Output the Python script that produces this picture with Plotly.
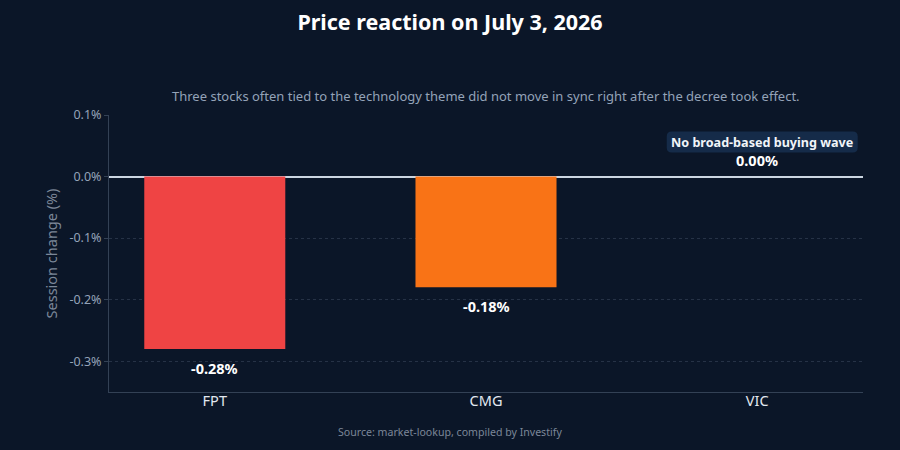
import plotly.graph_objects as go

tickers = ["FPT", "CMG", "VIC"]
changes = [-0.28, -0.18, 0.00]
bar_colors = ["#ef4444", "#f97316", "#64748b"]
labels = ["-0.28%", "-0.18%", "0.00%"]
y_ticks = [0.1, 0.0, -0.1, -0.2, -0.3]
y_tick_text = ["0.1%", "0.0%", "-0.1%", "-0.2%", "-0.3%"]
callout_text = "No broad-based buying wave"
callout_y = 0.056

BG = "#0b1628"
FONT = "Noto Sans"

fig = go.Figure()
fig.add_trace(go.Bar(
    x=tickers, y=changes,
    marker=dict(color=bar_colors, line=dict(width=0)),
    width=0.52,
    hoverinfo="skip",
))

annotations = [
    dict(text="Three stocks often tied to the technology theme did not move in sync right after the decree took effect.",
         xref="paper", yref="paper", x=0.5, y=1.07, xanchor="center", yanchor="middle",
         showarrow=False, font=dict(family=FONT, size=13, color="#94a3b8")),
    dict(text="Source: market-lookup, compiled by Investify",
         xref="paper", yref="paper", x=0.5 - 36 / 754, y=-0.143, xanchor="center", yanchor="middle",
         showarrow=False, font=dict(family=FONT, size=10.6, color="#7c8798")),
    dict(text="<b>" + callout_text + "</b>", x=2, y=callout_y, xshift=5,
         xref="x", yref="y", showarrow=False, xanchor="center", yanchor="middle",
         font=dict(family=FONT, size=12.6, color="#f1f5f9")),
]
for i, (t, v, lab) in enumerate(zip(tickers, changes, labels)):
    annotations.append(dict(
        text="<b>" + lab + "</b>", x=i, y=v, xref="x", yref="y",
        yshift=(-19 if v < 0 else 17), showarrow=False,
        xanchor="center", yanchor="middle",
        font=dict(family=FONT, size=14.5, color="#ffffff")))

w, h, r, dx = 191, 21, 5, 5
x0, x1, y0, y1 = -w / 2 + dx, w / 2 + dx, -h / 2, h / 2
path = (f"M {x0+r},{y0} L {x1-r},{y0} Q {x1},{y0} {x1},{y0+r} "
        f"L {x1},{y1-r} Q {x1},{y1} {x1-r},{y1} L {x0+r},{y1} "
        f"Q {x0},{y1} {x0},{y1-r} L {x0},{y0+r} Q {x0},{y0} {x0+r},{y0} Z")

fig.update_layout(
    width=900, height=450,
    paper_bgcolor=BG, plot_bgcolor=BG,
    margin=dict(l=109, r=37, t=115, b=58),
    showlegend=False,
    font=dict(family=FONT, color="#94a3b8"),
    title=dict(text="<b>Price reaction on July 3, 2026</b>", x=0.5, xanchor="center",
               y=0.949, yanchor="middle",
               font=dict(family=FONT, size=21.5, color="#ffffff")),
    xaxis=dict(type="category", range=[-0.39, 2.39], showgrid=False,
               showline=True, linecolor="#334155", linewidth=1,
               tickfont=dict(family=FONT, size=14.5, color="#e2e8f0"), ticks="",
               ticklabelstandoff=-4),
    yaxis=dict(range=[-0.35, 0.1], tickvals=y_ticks, ticktext=y_tick_text,
               showgrid=True, gridcolor="#263246", griddash="dot", gridwidth=1,
               showline=True, linecolor="#334155", linewidth=1,
               ticks="outside", ticklen=4, tickcolor="#334155",
               zeroline=True, zerolinecolor="#cbd5e1", zerolinewidth=1.5,
               tickfont=dict(family=FONT, size=12.5, color="#94a3b8"),
               title=dict(text="Session change (%)", standoff=8,
                          font=dict(family=FONT, size=14.5, color="#7c8798"))),
    shapes=[dict(type="path", xref="x", yref="y", xsizemode="pixel", ysizemode="pixel",
                 xanchor=2, yanchor=callout_y, path=path,
                 fillcolor="#152b49", line=dict(width=0), layer="below")],
    annotations=annotations,
)
fig.write_html("out.html")
